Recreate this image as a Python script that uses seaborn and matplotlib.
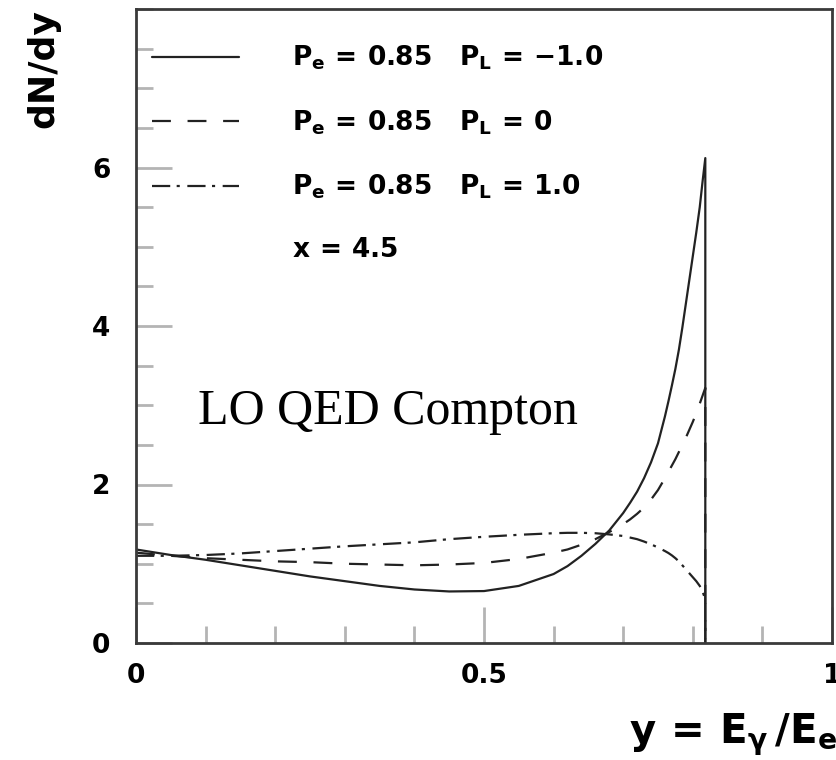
import matplotlib
matplotlib.use("Agg")
import matplotlib.pyplot as plt
from matplotlib.lines import Line2D
from matplotlib.ticker import MultipleLocator, FixedLocator
import pandas as pd
import seaborn as sns

# Photon energy fraction y = E_gamma / E_e (the last point closes the
# spectrum at the kinematic edge y_max)
y_frac = [0.00, 0.05, 0.10, 0.15, 0.20, 0.25, 0.30, 0.35, 0.40, 0.45,
          0.50, 0.55, 0.60, 0.62, 0.64, 0.66, 0.68, 0.70, 0.71, 0.72,
          0.73, 0.74, 0.75, 0.76, 0.765, 0.77, 0.775, 0.78, 0.785, 0.79,
          0.795, 0.80, 0.805, 0.81, 0.814, 0.818, 0.818]

# dN/dy for Pe = 0.85 and three laser polarisations
dndy_pl_m1 = [1.18, 1.11, 1.05, 0.98, 0.91, 0.84, 0.78, 0.72, 0.675, 0.65,
              0.655, 0.72, 0.87, 0.97, 1.10, 1.25, 1.42, 1.64, 1.77, 1.91,
              2.08, 2.28, 2.52, 2.86, 3.05, 3.25, 3.46, 3.70, 3.98, 4.28,
              4.58, 4.88, 5.18, 5.50, 5.82, 6.12, 0.0]
dndy_pl_0 = [1.14, 1.10, 1.07, 1.05, 1.03, 1.02, 1.00, 0.99, 0.98, 0.99,
             1.01, 1.06, 1.14, 1.18, 1.24, 1.31, 1.40, 1.50, 1.56, 1.63,
             1.71, 1.81, 1.93, 2.08, 2.16, 2.24, 2.32, 2.41, 2.50, 2.59,
             2.69, 2.79, 2.90, 3.02, 3.12, 3.22, 0.0]
dndy_pl_p1 = [1.10, 1.10, 1.11, 1.13, 1.16, 1.19, 1.22, 1.245, 1.27, 1.31,
              1.34, 1.365, 1.385, 1.39, 1.39, 1.385, 1.37, 1.35, 1.33, 1.31,
              1.28, 1.245, 1.205, 1.16, 1.135, 1.105, 1.07, 1.03, 0.98, 0.93,
              0.88, 0.83, 0.78, 0.72, 0.65, 0.55, 0.0]

series_keys = ["PL=-1.0", "PL=0", "PL=1.0"]
legend_labels = [r"$\mathbf{P_e\,=\,0.85\quad P_L\,=\,{-}1.0}$",
                 r"$\mathbf{P_e\,=\,0.85\quad P_L\,=\,0}$",
                 r"$\mathbf{P_e\,=\,0.85\quad P_L\,=\,1.0}$",
                 r"$\mathbf{x\,=\,4.5}$"]
x_ticks = [0.0, 0.5, 1.0]
x_tick_labels = ["0", "0.5", "1"]
y_ticks = [0, 2, 4, 6]
y_tick_labels = ["0", "2", "4", "6"]
note_text = "LO QED Compton"

frames = []
for key, vals in zip(series_keys, [dndy_pl_m1, dndy_pl_0, dndy_pl_p1]):
    frames.append(pd.DataFrame({"y": y_frac, "dndy": vals, "series": key}))
df = pd.concat(frames, ignore_index=True)

sns.set_theme(style="ticks")
plt.rcParams.update({
    "font.family": ["DejaVu Sans"],
    "mathtext.fontset": "custom",
    "mathtext.rm": "DejaVu Sans:bold",
    "mathtext.bf": "DejaVu Sans:bold",
    "mathtext.it": "DejaVu Sans:bold",
    "axes.edgecolor": "#3a3a3a",
    "axes.linewidth": 2.0,
    "text.color": "black",
    "axes.labelcolor": "black",
    "xtick.labelcolor": "black",
    "ytick.labelcolor": "black",
})

fig = plt.figure(figsize=(8.37, 7.6), dpi=100)
ax = fig.add_axes([0.1625, 0.154, 0.8315, 0.834])

line_col = "#222222"
sns.lineplot(data=df, x="y", y="dndy", style="series", style_order=series_keys,
             dashes={"PL=-1.0": "", "PL=0": (8.5, 7.5),
                     "PL=1.0": (8.2, 2.9, 1.4, 3.4)},
             color=line_col, linewidth=1.6, estimator=None, sort=False,
             legend=False, ax=ax)

ax.set_xlim(0, 1)
ax.set_ylim(0, 8)
ax.xaxis.set_major_locator(FixedLocator(x_ticks))
ax.set_xticklabels(x_tick_labels)
ax.xaxis.set_minor_locator(MultipleLocator(0.1))
ax.yaxis.set_major_locator(FixedLocator(y_ticks))
ax.set_yticklabels(y_tick_labels)
ax.yaxis.set_minor_locator(MultipleLocator(0.5))

ax.tick_params(which="both", direction="in", color="#b4b4b4", width=2,
               top=False, right=False)
ax.tick_params(which="major", length=26)
ax.tick_params(which="minor", length=12)
ax.tick_params(axis="x", which="major", pad=14.5, labelsize=19)
ax.tick_params(axis="y", which="major", pad=18.5, labelsize=19)
for lab in ax.get_xticklabels() + ax.get_yticklabels():
    lab.set_fontweight("bold")
    lab.set_color("black")

for side in ["left", "right", "top", "bottom"]:
    ax.spines[side].set_visible(True)

ax.set_xlabel(r"$\mathbf{y\,=\,E_{\gamma}\,/E_{e}}$", fontsize=29, loc="right")
ax.xaxis.set_label_coords(1.007, -0.108)
ax.xaxis.label.set_va("top")
ax.set_ylabel("dN/dy", fontsize=26, fontweight="bold", loc="top")
ax.yaxis.set_label_coords(-0.109, 1.0)

handles = list(ax.lines[:3]) + [Line2D([], [], linestyle="none")]
leg = ax.legend(handles, legend_labels, loc="upper left",
                bbox_to_anchor=(0.023, 0.945), frameon=False, fontsize=19,
                handlelength=3.3, handletextpad=2.0, labelspacing=1.36,
                borderaxespad=0, borderpad=0)
for t in leg.get_texts():
    t.set_color("black")

ax.text(0.089, 0.346, note_text, transform=ax.transAxes, ha="left",
        va="baseline", fontsize=36, family="Liberation Serif", color="black")

fig.savefig("out.png", dpi=100)
